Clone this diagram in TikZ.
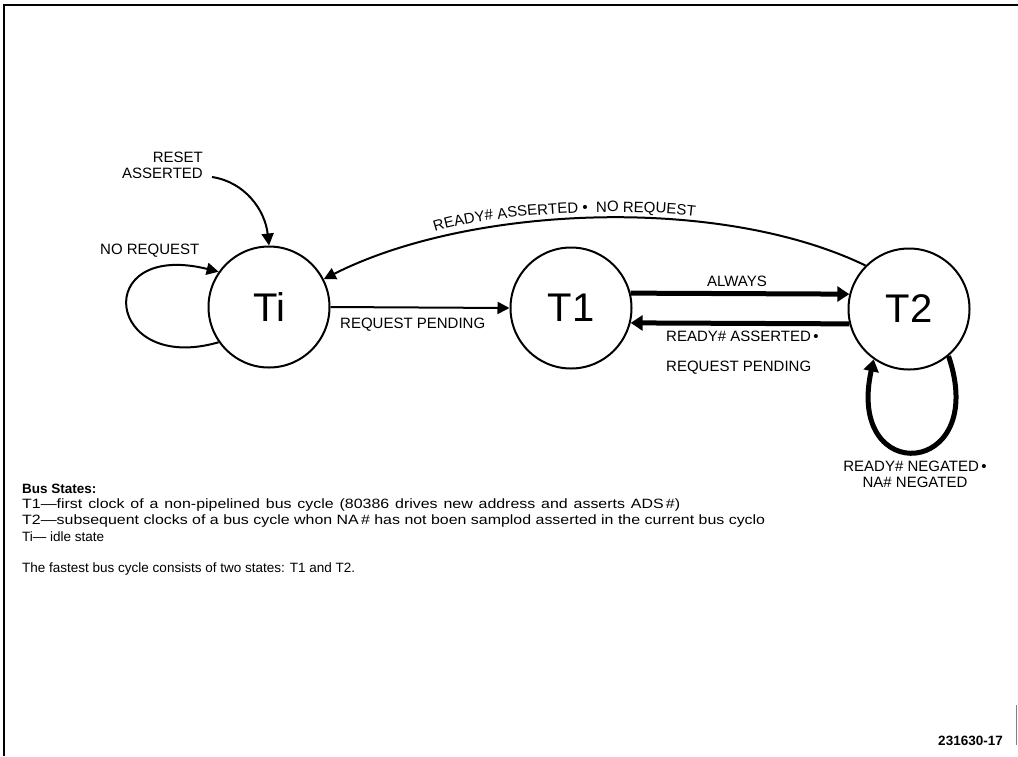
\documentclass[tikz,border=0pt]{standalone}
\usepackage{fontspec}
\setmainfont{Liberation Sans}
\newfontfamily\widefam[FakeStretch=1.18]{Liberation Sans}
\usetikzlibrary{arrows.meta,decorations.text}
\newcommand{\lblfont}{\fontsize{15}{18}\selectfont}
\newcommand{\txtfont}{\fontsize{13.5}{16}\selectfont}
\tikzset{
  state/.style={circle, draw, line width=2pt, minimum size=121pt, inner sep=0pt, font=\fontsize{40}{40}\selectfont},
  thinarrow/.style={line width=2pt, -{Triangle[length=12pt,width=12pt]}},
  thickarrow/.style={line width=5pt, -{Triangle[length=12pt,width=15pt]}},
  lbl/.style={font=\lblfont, inner sep=0pt},
  txt/.style={font=\txtfont, inner sep=0pt, anchor=west},
}
\begin{document}
\begin{tikzpicture}[x=1pt,y=-1pt]
\useasboundingbox (0,0) rectangle (1018,756);
% frame
\draw[line width=2.5pt] (4,756) -- (4,5) -- (1018,5);
\draw[gray, line width=1pt] (1016,705) -- (1016,745);

% states
\node[state] (ti) at (269,307) {Ti};
\node[state] (t1) at (571,308) {T1};
\node[state] (t2) at (909,309) {T2};

% reset
\node[lbl, align=right, anchor=east] (reset) at (203,165) {RESET\\[-2pt]ASSERTED};
\coordinate (rs) at (212,177);
\draw[thinarrow] (rs) .. controls (245,182) and (265,210) .. (ti.north);

% self loop Ti
\node[lbl, anchor=west] (noreq) at (100,251) {NO REQUEST};
\draw[thinarrow] (ti.215) .. controls (105,375) and (90,240) .. (ti.145);

% Ti -> T1
\draw[thinarrow] (ti.east) -- (t1.west);
\node[lbl, anchor=west] (reqp1) at (340,325) {REQUEST PENDING};

% T1 -> T2
\draw[thickarrow] (t1.14) -- (t2.166);
\node[lbl] (always) at (737,281) {ALWAYS};

% T2 -> T1
\draw[thickarrow] (t2.194) -- (t1.346);
\node[lbl, anchor=west] (rdyas) at (666,336) {READY\# ASSERTED\,•};
\node[lbl, anchor=west] (reqp2) at (666,368) {REQUEST PENDING};

% T2 -> Ti arc
\draw[thinarrow] (t2.135) .. controls (720,195) and (470,205) .. (ti.27);
\path[decorate, decoration={text along path, text align=left,
  text={|\lblfont|READY{\#} ASSERTED • {\ }NO REQUEST}}]
  (435,232) .. controls (490,214) and (620,206) .. (702,217);

% T2 self loop
\draw[thickarrow] (t2.-50) .. controls (990,478) and (845,488) .. (t2.-125);
\node[lbl, align=center] (rdyneg) at (915,474) {READY\# NEGATED\,•\\[-2pt]NA\# NEGATED};

% legend
\node[txt, font=\txtfont\bfseries] (bs) at (22,489) {Bus States:};
\node[txt] (l1) at (22,505) {\widefam\txtfont\makebox[658pt][s]{T1—first clock of a non-pipelined bus cycle (80386 drives new address and asserts ADS\,\#)}};
\node[txt] (l2) at (22,521) {\widefam\txtfont\makebox[743pt][s]{T2—subsequent clocks of a bus cycle whon NA\,\# has not boen samplod asserted in the current bus cyclo}};
\node[txt] (l3) at (22,537) {Ti— idle state};
\node[txt] (l4) at (22,569) {The fastest bus cycle consists of two states: T1 and T2.};

\node[font=\fontsize{13.5}{16}\selectfont\bfseries, inner sep=0pt, anchor=east] (fig) at (1003,741) {231630-17};
\end{tikzpicture}
\end{document}
